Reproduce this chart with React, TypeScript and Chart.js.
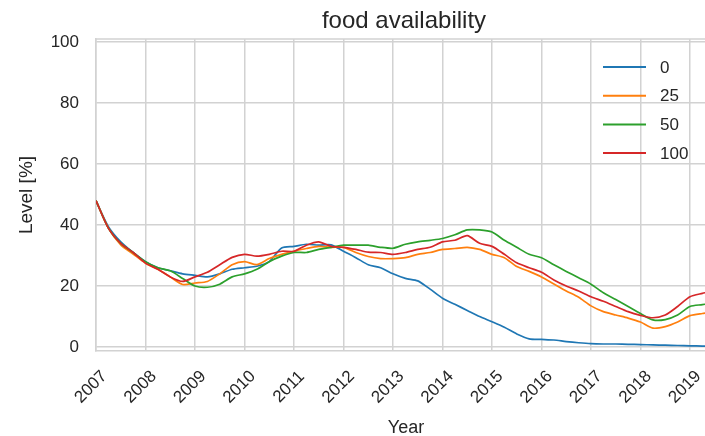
import React, { useEffect, useRef } from "react";
import { Chart, registerables } from "chart.js";

Chart.register(...registerables);

const chartTitle = "food availability";
const xAxisTitle = "Year";
const yAxisTitle = "Level [%]";
const seriesNames = ["0", "25", "50", "100"];

const years = [
  2007, 2007.25, 2007.5, 2007.75, 2008, 2008.25, 2008.5, 2008.75,
  2009, 2009.25, 2009.5, 2009.75, 2010, 2010.25, 2010.5, 2010.75,
  2011, 2011.25, 2011.5, 2011.75, 2012, 2012.25, 2012.5, 2012.75,
  2013, 2013.25, 2013.5, 2013.75, 2014, 2014.25, 2014.5, 2014.75,
  2015, 2015.25, 2015.5, 2015.75, 2016, 2016.25, 2016.5, 2016.75,
  2017, 2017.25, 2017.5, 2017.75, 2018, 2018.25, 2018.5, 2018.75,
  2019, 2019.25, 2019.5,
];

const level0 = [
  48, 39.5, 34.5, 31, 28, 26, 25, 24,
  23.5, 23, 24, 25.5, 26, 26.5, 28, 32.5,
  33, 33.7, 33.4, 33.5, 31.4, 29.3, 27, 26,
  24, 22.5, 21.7, 19, 16, 14, 12, 10,
  8.3, 6.5, 4.3, 2.7, 2.5, 2.3, 1.8, 1.4,
  1.1, 1.0, 1.0, 0.9, 0.8, 0.7, 0.6, 0.5,
  0.4, 0.3, 0.2,
];

const level25 = [
  48, 39, 33.5, 30.5, 27.5, 25.5, 23, 20.5,
  21, 21.5, 24, 27, 28, 27, 29, 30.4,
  31.4, 32.3, 33, 32.7, 32.7, 31, 29.7, 29,
  29, 29.3, 30.4, 31, 32, 32.3, 32.7, 32,
  30.4, 29.3, 26.4, 24.8, 23, 20.7, 18.4, 16.3,
  13.5, 11.6, 10.5, 9.5, 8.2, 6.2, 6.7, 8.2,
  10.3, 11, 11.5,
];

const level50 = [
  48, 39, 34, 31, 28, 26, 25, 22.5,
  20, 19.6, 20.6, 23, 24, 25.5, 28, 29.8,
  31, 31, 32, 32.7, 33.4, 33.4, 33.4, 32.7,
  32.4, 33.7, 34.5, 35, 35.6, 36.8, 38.4, 38.4,
  37.7, 35, 32.7, 30.4, 29.3, 27, 24.8, 22.7,
  20.6, 17.8, 15.6, 13.3, 11, 8.9, 9, 10.5,
  13.3, 13.9, 14.5,
];

const level100 = [
  48, 39, 34, 31, 27.5, 25.5, 23, 21.5,
  23, 24.5, 27, 29.4, 30.4, 29.8, 30.4, 31.4,
  31.4, 33.4, 34.5, 33, 32.7, 32, 31.1, 31,
  30.4, 31, 32, 32.7, 34.5, 35, 36.5, 34,
  33, 30.4, 27.6, 26, 24.5, 22, 20, 18.4,
  16.5, 15, 13.3, 11.6, 10.4, 9.6, 10.5, 13.3,
  16.5, 17.6, 18.5,
];

const xTickValues = [2007, 2008, 2009, 2010, 2011, 2012, 2013, 2014, 2015, 2016, 2017, 2018, 2019];
const xTickLabels = ["2007", "2008", "2009", "2010", "2011", "2012", "2013", "2014", "2015", "2016", "2017", "2018", "2019"];
const yTickValues = [0, 20, 40, 60, 80, 100];

const allSeries = [level0, level25, level50, level100];
const colors = ["#1f77b4", "#ff7f0e", "#2ca02c", "#d62728"];

const FONT = "'Liberation Sans', Arial, Helvetica, sans-serif";
const TEXT = "#262626";
const GRID = "#d2d2d2";

const overlayPlugin = {
  id: "overlay",
  afterDraw(chart: any) {
    const { ctx, chartArea, scales } = chart;
    ctx.save();
    // top frame line
    ctx.strokeStyle = GRID;
    ctx.lineWidth = 1.5;
    ctx.beginPath();
    ctx.moveTo(chartArea.left, chartArea.top);
    ctx.lineTo(chartArea.right, chartArea.top);
    ctx.stroke();

    // title
    ctx.fillStyle = TEXT;
    ctx.font = `24px ${FONT}`;
    ctx.textAlign = "center";
    ctx.textBaseline = "alphabetic";
    ctx.fillText(chartTitle, 404, 28);

    // x tick labels rotated 45 degrees, centred on tick
    ctx.font = `17px ${FONT}`;
    ctx.textAlign = "center";
    ctx.textBaseline = "middle";
    xTickValues.forEach((v, i) => {
      const px = scales.x.getPixelForValue(v);
      ctx.save();
      ctx.translate(px - 5, 387);
      ctx.rotate(-Math.PI / 4);
      ctx.fillText(xTickLabels[i], 0, 0);
      ctx.restore();
    });

    // x axis title
    ctx.font = `18px ${FONT}`;
    ctx.textAlign = "center";
    ctx.textBaseline = "alphabetic";
    ctx.fillText(xAxisTitle, 406, 433);

    // legend
    ctx.font = `17px ${FONT}`;
    ctx.textAlign = "left";
    ctx.textBaseline = "middle";
    seriesNames.forEach((name, i) => {
      const y = 67 + i * 28.7;
      ctx.strokeStyle = colors[i];
      ctx.lineWidth = 2;
      ctx.beginPath();
      ctx.moveTo(603, y);
      ctx.lineTo(646, y);
      ctx.stroke();
      ctx.fillStyle = TEXT;
      ctx.fillText(name, 660, y + 1);
    });
    ctx.restore();
  },
};

export default function App() {
  const canvasRef = useRef<HTMLCanvasElement | null>(null);

  useEffect(() => {
    const canvas = canvasRef.current;
    if (!canvas) return;
    const chart = new Chart(canvas, {
      type: "line",
      data: {
        datasets: allSeries.map((vals, i) => ({
          label: seriesNames[i],
          data: years.map((x, j) => ({ x, y: vals[j] })),
          borderColor: colors[i],
          backgroundColor: colors[i],
          borderWidth: 1.7,
          pointRadius: 0,
          tension: 0.25,
          fill: false,
          order: 3 - i,
        })),
      },
      options: {
        animation: false,
        responsive: false,
        devicePixelRatio: 1,
        layout: { padding: { top: 39, left: 0, right: 0, bottom: 0 } },
        plugins: {
          legend: { display: false },
          title: { display: false },
          tooltip: { enabled: false },
        },
        scales: {
          x: {
            type: "linear",
            min: 2007,
            max: 2019.303,
            afterBuildTicks: (scale: any) => {
              scale.ticks = xTickValues.map((v) => ({ value: v }));
            },
            afterFit: (scale: any) => {
              scale.height = 85;
            },
            ticks: { display: false },
            grid: { color: GRID, lineWidth: 1.5, drawTicks: false },
            border: { display: true, color: GRID, width: 1.5 },
          },
          y: {
            type: "linear",
            min: -1.3,
            max: 101,
            afterBuildTicks: (scale: any) => {
              scale.ticks = yTickValues.map((v) => ({ value: v }));
            },
            afterFit: (scale: any) => {
              scale.width = 96;
            },
            ticks: {
              padding: 17,
              color: TEXT,
              font: { family: FONT, size: 17 },
            },
            grid: { color: GRID, lineWidth: 1.5, drawTicks: false },
            border: { display: true, color: GRID, width: 1.5 },
            title: {
              display: true,
              text: yAxisTitle,
              color: TEXT,
              font: { family: FONT, size: 19 },
              padding: { top: 15, bottom: 0 },
            },
          },
        },
      },
      plugins: [overlayPlugin],
    });
    return () => chart.destroy();
  }, []);

  return (
    <div style={{ position: "fixed", left: 0, top: 0, width: 705, height: 436, background: "#fff" }}>
      <canvas ref={canvasRef} width={705} height={436} style={{ display: "block" }} />
    </div>
  );
}
